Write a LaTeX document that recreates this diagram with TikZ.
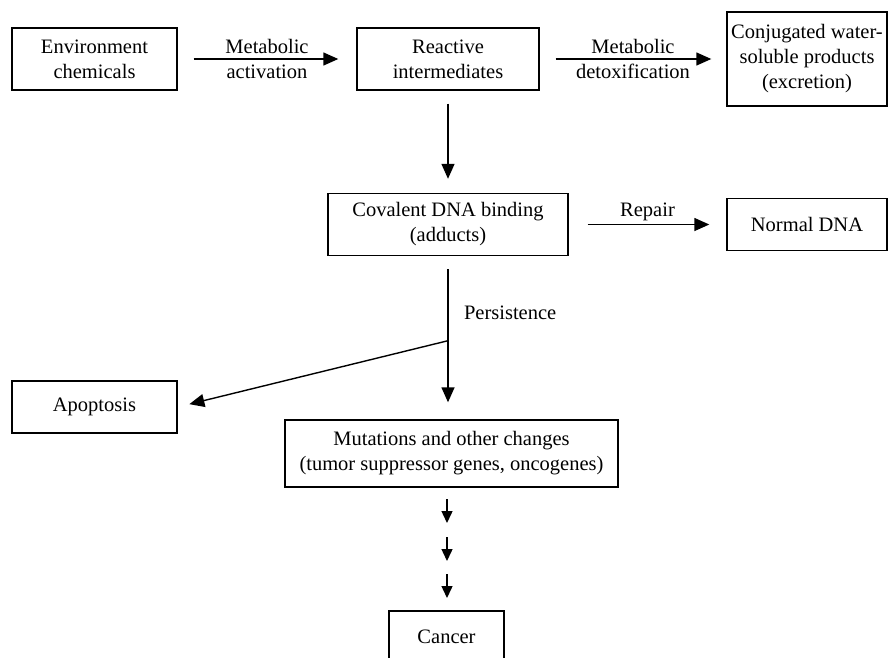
\documentclass[tikz,border=0pt]{standalone}
\usepackage{fontspec}
\setmainfont{Liberation Serif}
\usepackage{tikz}
\usetikzlibrary{arrows.meta}

\begin{document}
\begin{tikzpicture}[
  x=1pt, y=-1pt,
  every node/.style={font=\fontsize{20.5}{25}\selectfont},
  box/.style={draw, rectangle, line width=1.4pt, align=center, inner sep=0pt},
  flow/.style={line width=1.4pt, -{Triangle[length=15pt, width=13pt]}},
  small flow/.style={line width=1.4pt, -{Triangle[length=12pt, width=11pt]}}
]
\clip (0,0) rectangle (893,657);
\node[box, minimum width=165pt, minimum height=62pt] (env) at (94.5,59) {Environment\\chemicals};
\node[box, minimum width=182pt, minimum height=62pt] (react) at (448,59) {Reactive\\intermediates};
\node[box, minimum width=160pt, minimum height=94pt] (conj) at (807,59) {Conjugated water-\\soluble products\\(excretion)};
\node[box, minimum width=240pt, minimum height=62pt] (cov) at (448,224.5) {Covalent DNA binding\\(adducts)};
\node[box, minimum width=160pt, minimum height=52pt] (normal) at (807,224.5) {Normal DNA};
\node[box, minimum width=165pt, minimum height=52pt] (apop) at (94.5,407) {Apoptosis};
\node[box, minimum width=333pt, minimum height=67pt] (mut) at (451.5,453.5) {Mutations and other changes\\(tumor suppressor genes, oncogenes)};
\node[box, minimum width=115pt, minimum height=52pt] (cancer) at (446.5,637) {Cancer};

\draw[flow, shorten <=16pt, shorten >=18pt] (env) -- node[align=center] {Metabolic\\activation} (react);
\draw[flow, shorten <=16pt, shorten >=15pt] (react) -- node[align=center] {Metabolic\\detoxification} (conj);
\draw[flow, shorten <=13pt, shorten >=14pt] (react) -- (cov);
\draw[flow, shorten <=19pt, shorten >=17pt] (cov) -- node[above=0pt] {Repair} (normal);
\draw[flow, shorten <=13pt, shorten >=17pt] (cov.south) -- node[pos=0.35, right=12pt] {Persistence} (cov.south |- mut.north);
\coordinate (split) at ([yshift=-84.5pt]cov.south);
\draw[flow, shorten >=12pt] (split) -- (apop.east);
\foreach \i/\y in {1/499,2/537,3/574} {
  \coordinate (tick\i) at (447,\y);
  \draw[small flow] (tick\i) -- ++(0,24);
}
\end{tikzpicture}
\end{document}
